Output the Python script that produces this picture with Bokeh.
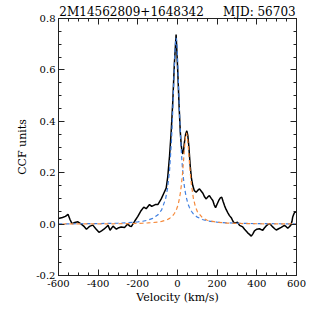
from bokeh.plotting import figure
from bokeh.models import Range1d, FixedTicker, LinearAxis
from bokeh.embed import file_html
from bokeh.resources import INLINE

# ---- data ----
title_star = "2M14562809+1648342"
title_mjd = "MJD: 56703"

ccf_vel = [-600, -580, -565, -552, -542, -532, -518, -502, -485, -470, -459, -448, -441, -427,
           -412, -396, -383, -371, -360, -350, -340, -325, -308, -296, -284, -267, -251, -240,
           -233, -217, -200, -183, -170, -158, -141, -130, -112, -99, -82, -69, -57, -49, -40,
           -32, -24, -16, -7, 1, 8, 14, 19, 23, 27, 31, 35, 41, 47, 52, 57, 64, 70, 77, 85, 94,
           103, 111, 120, 128, 137, 145, 153, 161, 170, 178, 185, 192, 200, 208, 216, 223, 230,
           237, 245, 254, 262, 271, 279, 287, 295, 302, 313, 321, 329, 338, 346, 355, 363, 372,
           380, 388, 400, 413, 421, 430, 438, 447, 455, 464, 472, 480, 490, 498, 510, 523, 531,
           539, 548, 556, 564, 571, 577, 581, 586, 590, 595, 600]
ccf_val = [0.022, 0.026, 0.030, 0.038, 0.018, 0.002, 0.006, 0.009, 0.000, -0.010, -0.020, -0.012,
           -0.008, -0.004, -0.018, -0.032, -0.026, -0.020, -0.012, -0.005, -0.024, -0.008, -0.020,
           -0.014, -0.011, -0.013, 0.000, -0.008, -0.010, 0.010, 0.030, 0.053, 0.066, 0.060, 0.076,
           0.069, 0.076, 0.076, 0.098, 0.120, 0.140, 0.185, 0.266, 0.357, 0.473, 0.620, 0.738,
           0.600, 0.460, 0.360, 0.305, 0.283, 0.273, 0.290, 0.318, 0.350, 0.363, 0.345, 0.305,
           0.228, 0.180, 0.150, 0.130, 0.124, 0.132, 0.137, 0.128, 0.120, 0.105, 0.098, 0.106,
           0.111, 0.100, 0.092, 0.075, 0.064, 0.078, 0.092, 0.102, 0.105, 0.088, 0.072, 0.057,
           0.044, 0.033, 0.025, 0.012, 0.003, 0.005, 0.008, -0.005, -0.008, -0.011, -0.020,
           -0.027, -0.035, -0.040, -0.047, -0.038, -0.026, -0.020, -0.018, -0.021, -0.024,
           -0.015, -0.007, -0.002, 0.002, -0.004, -0.011, -0.018, -0.023, -0.018, -0.013,
           -0.009, -0.005, -0.010, -0.016, -0.010, -0.005, 0.010, 0.028, 0.038, 0.045, 0.047,
           0.047]

fit_vel = [-600, -400, -300, -250, -200, -175, -150, -125, -100, -80,
           -60, -50, -40, -30, -25, -20, -15, -10, -7, -4,
           0, 5, 10, 15, 20, 25, 30, 35, 40, 45,
           50, 55, 60, 65, 70, 80, 90, 100, 125, 150,
           200, 250, 300, 400, 600]
fit_blue = [0.0009, 0.0019, 0.0037, 0.0054, 0.0085, 0.0112, 0.0153, 0.0222, 0.0352, 0.0554,
            0.0984, 0.140, 0.209, 0.330, 0.418, 0.524, 0.633, 0.711, 0.725, 0.711,
            0.653, 0.546, 0.438, 0.346, 0.273, 0.218, 0.177, 0.145, 0.121, 0.102,
            0.087, 0.0746, 0.065, 0.0568, 0.050, 0.040, 0.0325, 0.027, 0.0179, 0.0127,
            0.0074, 0.0048, 0.0034, 0.0019, 0.0009]
fit_orange = [0.0004, 0.0009, 0.0014, 0.0020, 0.0028, 0.0035, 0.0045, 0.0058, 0.0080, 0.0107,
              0.0149, 0.018, 0.0223, 0.028, 0.0319, 0.0365, 0.0421, 0.049, 0.0539, 0.0596,
              0.0685, 0.0824, 0.1006, 0.124, 0.155, 0.194, 0.242, 0.294, 0.338, 0.355,
              0.338, 0.294, 0.242, 0.194, 0.155, 0.1006, 0.0685, 0.049, 0.025, 0.0149,
              0.0070, 0.0040, 0.0026, 0.0014, 0.0006]

x_ticks = [-600, -400, -200, 0, 200, 400, 600]
x_tick_labels = ["-600", "-400", "-200", "0", "200", "400", "600"]
x_minor = [-550, -500, -450, -350, -300, -250, -150, -100, -50, 50, 100, 150, 250, 300, 350,
           450, 500, 550]
y_ticks = [-0.2, 0.0, 0.2, 0.4, 0.6, 0.8]
y_tick_labels = ["-0.2", "0.0", "0.2", "0.4", "0.6", "0.8"]
y_minor = [-0.15, -0.1, -0.05, 0.05, 0.1, 0.15, 0.25, 0.3, 0.35, 0.45, 0.5, 0.55, 0.65, 0.7, 0.75]

FONT = "DejaVu Serif"
NBSP = "\u00a0"

p = figure(width=306, height=306, x_range=Range1d(-600, 600), y_range=Range1d(-0.2, 0.8),
           output_backend="svg", toolbar_location=None,
           min_border_left=58, min_border_right=10, min_border_top=18, min_border_bottom=30)
p.grid.visible = False
p.outline_line_color = "black"
p.outline_line_width = 1
p.background_fill_color = "white"
p.border_fill_color = "white"

p.title.text = title_star + NBSP * 5 + title_mjd
p.title.align = "center"
p.title.text_font = FONT
p.title.text_font_size = "12px"
p.title.text_font_style = "normal"
p.title.text_color = "black"
p.title.standoff = 0
p.title.offset = 0

def style_axis(ax, ticks, minor, labels, show_labels):
    ax.ticker = FixedTicker(ticks=ticks, minor_ticks=minor)
    ax.major_tick_in = 6
    ax.major_tick_out = 0
    ax.minor_tick_in = 3
    ax.minor_tick_out = 0
    ax.axis_line_color = "#222222"
    ax.major_tick_line_color = "#222222"
    ax.minor_tick_line_color = "#222222"
    if show_labels:
        ax.major_label_overrides = dict(zip(ticks, labels))
        ax.major_label_text_font = FONT
        ax.major_label_text_font_size = "10px"
        ax.major_label_text_color = "black"
    else:
        ax.major_label_text_font_size = "1px"
        ax.major_label_text_color = None
        ax.major_label_standoff = 0

xa = p.xaxis[0]
style_axis(xa, x_ticks, x_minor, x_tick_labels, True)
xa.major_label_standoff = 4
xa.axis_label = "Velocity (km/s)"
xa.axis_label_text_font = FONT
xa.axis_label_text_font_size = "11px"
xa.axis_label_text_font_style = "normal"
xa.axis_label_text_color = "black"
xa.axis_label_standoff = 1

ya = p.yaxis[0]
style_axis(ya, y_ticks, y_minor, y_tick_labels, True)
ya.major_label_standoff = 3
ya.axis_label = "CCF units"
ya.axis_label_text_font = FONT
ya.axis_label_text_font_size = "11px"
ya.axis_label_text_font_style = "normal"
ya.axis_label_text_color = "black"
ya.axis_label_standoff = 4

top = LinearAxis()
style_axis(top, x_ticks, x_minor, x_tick_labels, False)
p.add_layout(top, "above")
right = LinearAxis()
style_axis(right, y_ticks, y_minor, y_tick_labels, False)
p.add_layout(right, "right")

p.line(ccf_vel, ccf_val, line_color="black", line_width=1.5)
p.line(fit_vel, fit_blue, line_color="#3f7fe0", line_width=1.2, line_dash="4 3")
p.line(fit_vel, fit_orange, line_color="#f5893a", line_width=1.2, line_dash="4 3",
       line_dash_offset=3)

open("out.html", "w").write(file_html(p, INLINE))
